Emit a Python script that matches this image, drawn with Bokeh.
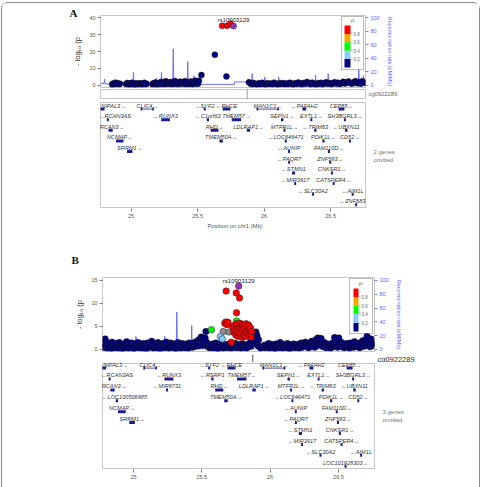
from bokeh.plotting import figure
from bokeh.layouts import column
from bokeh.models import Range1d, LinearAxis, FixedTicker, Label, Title
from bokeh.core.properties import value
from bokeh.embed import file_html
from bokeh.resources import INLINE

# ------------------------------------------------------------------ data
x_ticks = [25.0, 25.5, 26.0, 26.5]
x_tick_labels = ["25", "25.5", "26", "26.5"]
recomb_ticks = [0, 20, 40, 60, 80, 100]
logp_ticks_a = [0, 10, 20, 30, 40]
logp_ticks_b = [0, 5, 10, 15]
r2_labels = ["0.8", "0.6", "0.4", "0.2"]

index_snp = "rs10903129"
index_pos = 25.770
index_logp_a = 35.2
index_logp_b = 13.8
cpg_probe = "cg0922289"
cpg_pos = 25.873
omitted_a = ["2 genes", "omitted"]
omitted_b = ["3 genes", "omitted"]

# recombination rate (cM/Mb)
recomb_pos = [24.770, 24.796, 24.800, 24.804, 24.838, 24.842, 24.846, 25.014, 25.018, 25.022,
              25.185, 25.189, 25.193, 25.225, 25.229, 25.233, 25.262, 25.266, 25.270, 25.313,
              25.317, 25.321, 25.422, 25.426, 25.430, 25.468, 25.472, 25.476, 25.560, 25.777,
              25.779, 25.871, 25.873, 25.906, 25.910, 25.914, 26.001, 26.005, 26.009, 26.106,
              26.110, 26.114, 26.383, 26.387, 26.391, 26.478, 26.482, 26.486, 26.708, 26.712,
              26.716, 26.744, 26.748, 26.752, 26.764]
recomb_rate = [3.0, 1.8, 9.0, 1.6, 1.5, 4.5, 1.4, 1.3, 19.0, 1.3,
               1.2, 10.0, 1.2, 1.3, 19.0, 1.3, 1.2, 8.0, 1.2, 1.3,
               54.0, 1.3, 1.1, 35.0, 1.1, 1.2, 14.0, 1.0, 0.9, 0.9,
               4.6, 4.6, 1.2, 1.2, 17.0, 1.1, 1.0, 12.0, 1.0, 1.0,
               12.0, 1.0, 1.1, 15.0, 1.1, 1.2, 17.0, 1.2, 1.3, 25.0,
               1.3, 1.4, 14.0, 1.4, 1.5]

# panel A association (-log10 p), r2 < 0.2
a_navy_pos = [24.858, 24.866, 24.874, 24.882, 24.891, 24.899, 24.908, 24.916,
              24.962, 24.971, 24.980, 24.989, 24.998, 25.007, 25.016, 25.026, 25.035,
              25.044, 25.053, 25.062, 25.071, 25.080, 25.090, 25.099, 25.108, 25.117,
              25.160, 25.168, 25.176, 25.184, 25.193, 25.201, 25.210, 25.218, 25.227,
              25.235, 25.244, 25.252, 25.261, 25.269, 25.278, 25.286, 25.295, 25.303,
              25.312, 25.320, 25.329, 25.337, 25.346, 25.354, 25.363, 25.371, 25.380,
              25.388, 25.397, 25.405, 25.414, 25.422, 25.431, 25.439, 25.448, 25.456,
              25.465, 25.473, 25.481, 25.489, 25.496, 25.503, 25.510,
              25.529, 25.630, 25.717,
              25.886, 25.897, 25.909, 25.921, 25.934, 25.946, 25.959, 25.972, 25.985,
              25.998, 26.011, 26.024, 26.037, 26.050, 26.063, 26.076, 26.089, 26.102,
              26.115, 26.128, 26.141, 26.154, 26.167, 26.180, 26.193, 26.206, 26.219,
              26.232, 26.245, 26.258, 26.271, 26.284, 26.297, 26.310, 26.323, 26.336,
              26.349, 26.362, 26.375, 26.388, 26.401, 26.414, 26.427, 26.440, 26.453,
              26.466, 26.479, 26.492, 26.505, 26.518, 26.531, 26.544, 26.557, 26.570,
              26.583, 26.596, 26.609, 26.622, 26.635, 26.648, 26.661, 26.674, 26.687,
              26.700, 26.713, 26.726, 26.739, 26.750]
a_navy_logp = [0.3, 0.9, 0.5, 1.4, 0.6, 1.1, 0.4, 0.8,
               0.6, 1.2, 0.3, 0.9, 0.5, 1.4, 0.7, 0.2, 1.0,
               0.6, 0.4, 1.1, 0.8, 0.3, 0.9, 1.3, 0.5, 0.7,
               0.4, 1.0, 0.6, 1.5, 0.3, 0.8, 1.2, 0.5, 1.9,
               0.7, 1.1, 0.4, 2.2, 0.9, 1.4, 0.6, 1.8, 1.0,
               0.5, 1.3, 2.4, 0.8, 1.6, 0.4, 1.1, 2.0, 0.7,
               1.4, 0.9, 2.3, 0.5, 1.2, 1.7, 0.6, 2.1, 1.0,
               0.4, 1.5, 2.6, 0.9, 1.8, 0.7, 2.5,
               5.9, 18.1, 5.1,
               1.6, 0.9, 0.4, 1.2, 0.6, 0.3, 1.0, 0.5, 1.3,
               0.7, 0.3, 1.1, 0.6, 0.9, 0.4, 1.4, 0.7, 0.3,
               1.0, 0.6, 1.2, 0.4, 0.9, 0.5, 1.3, 0.8, 0.3,
               1.1, 0.6, 1.5, 0.9, 0.4, 1.2, 0.7, 1.8, 1.0,
               0.5, 1.4, 0.8, 0.3, 1.1, 0.6, 1.3, 0.4, 0.9,
               1.6, 0.7, 1.2, 0.5, 1.0, 1.7, 0.8, 1.3, 0.6,
               1.1, 1.9, 0.9, 1.5, 2.1, 1.2, 0.7, 1.6, 2.3,
               1.0, 1.8, 0.8, 2.2, 1.3]
# panel A, r2 >= 0.8
a_red_pos = [25.685, 25.722, 25.748]
a_red_logp = [35.3, 35.3, 36.6]

# panel B association (-log10 p), r2 < 0.2
b_navy_pos = [24.781, 24.788, 24.792, 24.799, 24.806, 24.813, 24.821, 24.828, 24.836, 24.843,
              24.851, 24.858, 24.866, 24.873, 24.881, 24.889, 24.896, 24.904, 24.911, 24.919,
              24.927, 24.934, 24.942, 24.950, 24.957, 24.965, 24.972, 24.980, 24.987, 24.995,
              25.002, 25.010, 25.018, 25.025, 25.033, 25.041, 25.048, 25.056, 25.064, 25.071,
              25.079, 25.087, 25.094, 25.102, 25.110, 25.117, 25.125, 25.133, 25.140, 25.148,
              25.156, 25.163, 25.171, 25.179, 25.186, 25.194, 25.202, 25.209, 25.217, 25.225,
              25.232, 25.240, 25.248, 25.255, 25.263, 25.271, 25.278, 25.286, 25.294, 25.301,
              25.309, 25.317, 25.324, 25.332, 25.340, 25.347, 25.355, 25.363, 25.370, 25.378,
              25.386, 25.393, 25.401, 25.409, 25.416, 25.424, 25.432, 25.439, 25.447, 25.455,
              25.462, 25.469, 25.476, 25.483, 25.489, 25.495, 25.501, 25.507, 25.513, 25.519,
              25.524, 25.530, 25.536, 25.542, 25.549, 25.556, 25.563,
              25.571, 25.579, 25.587, 25.595, 25.603, 25.611, 25.619, 25.627, 25.635, 25.643,
              25.651, 25.659, 25.667, 25.675, 25.683, 25.691, 25.699, 25.707, 25.715, 25.723,
              25.731, 25.739, 25.747, 25.755, 25.763, 25.771, 25.779, 25.787, 25.795, 25.803,
              25.811, 25.819, 25.827, 25.835, 25.843, 25.851, 25.858, 25.865, 25.871, 25.877,
              25.883, 25.888, 25.892, 25.896, 25.900, 25.904, 25.909, 25.915, 25.922, 25.931,
              25.944, 25.957,
              25.966, 25.974, 25.982, 25.989, 25.997, 26.005, 26.012, 26.020, 26.028, 26.035,
              26.043, 26.051, 26.058, 26.066, 26.074, 26.081, 26.089, 26.097, 26.104, 26.112,
              26.120, 26.127, 26.135, 26.143, 26.150, 26.158, 26.166, 26.173, 26.181, 26.189,
              26.196, 26.204, 26.212, 26.219, 26.227, 26.235, 26.242, 26.250, 26.258, 26.265,
              26.273, 26.281, 26.288, 26.296, 26.304, 26.311, 26.319, 26.327, 26.334, 26.342,
              26.350, 26.357, 26.365, 26.373, 26.380, 26.388, 26.396, 26.403, 26.411, 26.419,
              26.426, 26.434, 26.442, 26.449, 26.457, 26.465, 26.472, 26.480, 26.488, 26.495,
              26.503, 26.511, 26.518, 26.526, 26.534, 26.541, 26.549, 26.557, 26.564, 26.572,
              26.580, 26.587, 26.595, 26.603, 26.610, 26.618, 26.626, 26.633, 26.641, 26.649,
              26.656, 26.664, 26.672, 26.679, 26.687, 26.695, 26.702, 26.709, 26.716, 26.723,
              26.731, 26.738, 26.745, 26.752]
b_navy_logp = [0.5, 1.2, 2.3, 0.8, 0.3, 1.4, 0.6, 1.0, 0.2, 1.6,
               0.7, 1.1, 0.4, 1.3, 0.8, 0.3, 1.5, 0.6, 1.0, 0.2,
               1.2, 0.7, 0.4, 1.7, 0.9, 0.3, 1.1, 0.6, 1.4, 0.8,
               0.2, 1.2, 0.5, 0.9, 1.5, 0.4, 1.0, 0.7, 0.3, 1.3,
               0.6, 1.0, 0.2, 1.4, 0.8, 0.5, 1.1, 1.8, 0.6, 0.3,
               1.2, 0.8, 0.4, 1.5, 0.9, 0.2, 1.0, 0.6, 1.3, 0.4,
               0.9, 1.6, 0.5, 1.1, 0.3, 1.4, 0.8, 0.5, 1.2, 0.7,
               0.2, 1.0, 1.5, 0.6, 0.9, 0.3, 1.3, 0.7, 1.0, 0.4,
               1.2, 0.8, 0.3, 1.4, 0.6, 1.1, 0.5, 0.9, 1.5, 0.7,
               1.2, 1.9, 0.8, 2.2, 1.3, 2.7, 1.6, 0.9, 2.0, 1.2,
               2.5, 3.9, 1.5, 0.7, 1.1, 0.4, 0.9,
               0.5, 1.2, 0.3, 0.9, 1.4, 0.6, 0.2, 1.0, 0.5, 1.3,
               0.7, 0.3, 1.1, 0.6, 0.9, 0.4, 1.2, 0.7, 0.3, 1.0,
               0.5, 0.8, 1.3, 0.4, 0.9, 0.6, 1.1, 0.3, 0.8, 1.2,
               0.5, 0.9, 0.3, 1.0, 0.6, 1.4, 0.7, 2.0, 1.2, 2.6,
               1.8, 3.3, 2.4, 3.8, 1.5, 3.0, 0.9, 2.1, 0.6, 0.3,
               0.5, 0.9,
               0.4, 1.0, 0.6, 1.3, 0.3, 0.8, 1.1, 0.5, 0.9, 0.2,
               1.2, 0.6, 1.0, 0.4, 1.5, 0.8, 0.3, 1.1, 0.6, 0.9,
               0.4, 1.3, 0.7, 0.2, 1.0, 0.5, 0.8, 1.2, 0.4, 0.9,
               0.6, 1.1, 0.3, 0.8, 1.4, 0.5, 1.0, 0.7, 1.6, 0.9,
               1.3, 0.4, 1.1, 0.6, 1.8, 0.9, 1.4, 0.5, 2.1, 1.2,
               2.5, 1.0, 1.7, 2.4, 1.1, 0.6, 1.5, 0.9, 0.4, 1.2,
               0.7, 1.0, 0.3, 0.9, 1.4, 0.6, 2.6, 0.8, 1.3, 0.5,
               2.5, 1.0, 1.6, 0.7, 1.2, 0.4, 0.9, 1.3, 0.6, 1.0,
               0.3, 1.4, 0.8, 1.1, 0.5, 1.7, 0.9, 1.3, 0.6, 1.0,
               0.4, 1.5, 0.8, 1.9, 0.7, 1.3, 2.0, 2.8, 1.1, 1.7,
               0.6, 2.3, 0.9, 1.4]
# panel B, other LD bins
b_lblue_pos = [25.636, 25.650]
b_lblue_logp = [2.8, 2.3]
b_green_pos = [25.570, 25.754]
b_green_logp = [4.3, 6.2]
b_orange_pos = [25.803]
b_orange_logp = [3.4]
b_gray_pos = [25.657, 25.700]
b_gray_logp = [3.9, 3.8]
b_red_pos = [25.668, 25.676, 25.684, 25.692, 25.716,
             25.726, 25.732, 25.738, 25.742, 25.748, 25.752, 25.757, 25.761, 25.766, 25.770,
             25.775, 25.779, 25.783, 25.788, 25.792, 25.797, 25.801, 25.806, 25.810, 25.815,
             25.820, 25.824, 25.829, 25.833, 25.838, 25.843, 25.847, 25.852, 25.857, 25.862,
             25.866, 25.678, 25.752, 25.776, 25.754]
b_red_logp = [5.7, 6.0, 5.4, 5.9, 1.6,
              4.9, 3.8, 5.2, 4.4, 3.2, 5.6, 4.1, 2.9, 5.0, 3.6,
              4.6, 5.7, 3.3, 4.8, 2.6, 5.4, 4.0, 3.1, 5.2, 4.4,
              2.8, 5.6, 3.7, 4.9, 3.0, 5.3, 4.2, 3.4, 4.7, 2.7,
              3.9, 12.7, 12.3, 11.2, 8.0]

# genes (hg19, Mb)
gene_names = ["NIPAL3", "RCAN3AS", "RCAN3", "LOC100506985", "NCMAP", "SRRM1", "CLIC4", "RUNX3",
              "MIR6731", "SYF2", "C1orf63", "RSRP1", "RHD", "TMEM50A", "RHCE", "TMEM57",
              "LDLRAP1", "MAN1C1", "SEPN1", "MTFR1L", "LOC646471", "AUNIP", "PAQR7", "STMN1",
              "MIR3917", "PAFAH2", "EXTL1", "SLC30A2", "TRIM63", "PDIK1L", "FAM110D", "ZNF593",
              "CNKSR1", "CATSPER4", "LOC101928303", "CEP85", "SH3BGRL3", "UBXN11", "CD52",
              "AIM1L", "ZNF683"]
gene_starts = [24.742, 24.822, 24.830, 24.870, 24.886, 24.969, 25.072, 25.226, 25.245, 25.550,
               25.569, 25.569, 25.598, 25.664, 25.688, 25.757, 25.870, 25.944, 26.127, 26.146,
               26.161, 26.185, 26.186, 26.210, 26.233, 26.288, 26.348, 26.364, 26.377, 26.438,
               26.486, 26.496, 26.503, 26.517, 26.548, 26.560, 26.606, 26.608, 26.644, 26.660,
               26.688]
gene_ends = [24.800, 24.829, 24.862, 24.887, 24.943, 25.010, 25.171, 25.292, 25.246, 25.558,
             25.586, 25.586, 25.657, 25.690, 25.747, 25.827, 25.895, 26.111, 26.145, 26.161,
             26.165, 26.191, 26.191, 26.233, 26.234, 26.317, 26.362, 26.373, 26.394, 26.455,
             26.489, 26.498, 26.518, 26.529, 26.556, 26.604, 26.609, 26.627, 26.647, 26.672,
             26.696]
gene_strands = ["+", "-", "+", "-", "+", "+", "+", "-", "-", "-",
                "-", "-", "+", "+", "-", "+", "+", "+", "+", "+",
                "-", "-", "-", "-", "-", "-", "+", "-", "-", "+",
                "+", "+", "+", "+", "+", "+", "+", "-", "+", "-",
                "-"]
gene_rows_a = [0, 1, 2, None, 3, 4, 0, 1, None, 0,
               1, None, 2, 3, 0, 1, 2, 0, 1, 2,
               3, 4, 5, 6, 7, 0, 1, 8, 2, 3,
               4, 5, 6, 7, None, 0, 1, 2, 3, 8,
               9]
gene_rows_b = [0, 1, 2, 3, 4, 5, 0, 1, 2, 0,
               None, 1, 2, 3, 0, 1, 2, 0, 1, 2,
               3, 4, 5, 6, 7, 0, 1, 8, 2, 3,
               4, 5, 6, 7, 9, 0, 1, 2, 3, 8,
               None]

# ------------------------------------------------------------------ style
W = 477            # width of each stacked figure
OX = 2             # left offset of the stacked figures inside the outer frame
RIGHT = OX + W     # right edge of every figure
FONT = "Liberation Sans"
TXT = "#555555"
BLUE = "#5f5ff2"
RECOMB = "#6f6ff7"
FRAME = "#c6c6c6"
GENE = "#1d1d8c"
LD_COLORS = ["#FF0000", "#FFA500", "#00FF00", "#87CEFA", "#000080"]   # r2: 0.8-1 ... 0-0.2
INDEX_COLOR = "#9632B8"
NA_COLOR = "#8c8c8c"


def make_panel(fig_top, fig_bottom, frame, box, xr, yr, outline):
    """frame: plotting area (px); box: the area that xr / yr span (px)."""
    l, r, t, b = frame
    bl, br, bt, bb = box

    def fx(px):
        return xr[0] + (px - bl) / (br - bl) * (xr[1] - xr[0])

    def fy(py):
        return yr[0] + (bb - py) / (bb - bt) * (yr[1] - yr[0])

    p = figure(width=W, height=fig_bottom - fig_top,
               x_range=Range1d(fx(l), fx(r)), y_range=Range1d(fy(b), fy(t)),
               output_backend="svg", toolbar_location=None,
               x_axis_location=None, y_axis_location=None,
               min_border_left=l - OX, min_border_right=RIGHT - r,
               min_border_top=t - fig_top, min_border_bottom=fig_bottom - b)
    p.grid.visible = False
    p.outline_line_color = FRAME if outline else None
    p.outline_line_width = 1
    p.background_fill_color = "white"
    p.border_fill_color = "white"
    return p, fx, fy


def style_axis(ax, color, label_size, label_color):
    ax.major_label_text_font = FONT
    ax.major_label_text_font_size = "5.5px"
    ax.major_label_text_color = color
    ax.axis_label_text_font = FONT
    ax.axis_label_text_font_size = label_size
    ax.axis_label_text_font_style = "normal"
    ax.axis_label_text_color = label_color
    ax.major_tick_in = 0
    ax.major_tick_out = 3
    ax.minor_tick_in = 0
    ax.minor_tick_out = 0
    ax.major_tick_line_color = color
    ax.major_tick_line_width = 0.8
    ax.axis_line_color = None
    ax.major_label_standoff = 2
    ax.axis_label_standoff = 4


def add_text(p, x, y, text, size, color="#333333", align="left"):
    p.add_layout(Label(x=x, y=y, text=text, text_font=FONT, text_font_size=size,
                       text_color=color, text_align=align, text_baseline="middle"))


def panel_letter(p, letter, offset, standoff):
    p.add_layout(Title(text=letter, align="left", offset=offset, standoff=standoff,
                       text_font="Liberation Serif", text_font_style="bold",
                       text_font_size="11px", text_color="#111111"), "above")


def dots(p, xs, ys, color, size):
    p.scatter(xs, ys, marker="circle", size=size, fill_color=color,
              line_color="#1a1a1a", line_width=0.5)


def assoc_panel(fig_top, fig_bottom, frame, xr, yr, ticks, k, legend_geo):
    p, fx, fy = make_panel(fig_top, fig_bottom, frame, frame, xr, yr, True)
    p.extra_y_ranges = {"recomb": Range1d(yr[0] * k, yr[1] * k)}
    ax = LinearAxis(ticker=FixedTicker(ticks=ticks), axis_label="- log\u2081\u2080 (p")
    style_axis(ax, TXT, "7.5px", "#333333")
    p.add_layout(ax, "left")
    ar = LinearAxis(y_range_name="recomb", ticker=FixedTicker(ticks=recomb_ticks),
                    axis_label="Recombination rate (cM/Mb)")
    style_axis(ar, BLUE, "5.5px", BLUE)
    p.add_layout(ar, "right")
    p.line(recomb_pos, recomb_rate, y_range_name="recomb", line_color=RECOMB, line_width=1)

    # r2 key
    box, sw, lab_x, title = legend_geo
    p.quad(left=fx(box[0]), right=fx(box[1]), top=fy(box[2]), bottom=fy(box[3]),
           fill_color="white", line_color="#a8a8a8", line_width=0.8)
    h = (sw[3] - sw[2]) / len(LD_COLORS)
    for i, c in enumerate(LD_COLORS):
        p.quad(left=fx(sw[0]), right=fx(sw[1]), top=fy(sw[2] + i * h),
               bottom=fy(sw[2] + (i + 1) * h), fill_color=c, line_color=None)
    for i, lab in enumerate(r2_labels):
        yy = sw[2] + (i + 1) * h
        p.segment(x0=fx(sw[1]), y0=fy(yy), x1=fx(sw[1] + 2), y1=fy(yy),
                  line_color="#777777", line_width=0.6)
        add_text(p, fx(lab_x), fy(yy), lab, "4.5px", "#666666")
    add_text(p, fx(title[0]), fy(title[1]), "r\u00b2", "5.5px", "#555555", "center")
    return p, fx, fy


def meth_panel(fig_top, fig_bottom, frame, box, xr, boxed, line_color, label_px, size, color):
    p, fx, fy = make_panel(fig_top, fig_bottom, frame, box, xr, (0, 1), False)
    if boxed:
        p.quad(left=xr[0], right=xr[1], top=1, bottom=0, fill_color=None,
               line_color=FRAME, line_width=1)
    p.segment(x0=[cpg_pos], y0=[fy(frame[3])], x1=[cpg_pos], y1=[fy(frame[2])],
              line_color=line_color, line_width=1)
    add_text(p, fx(label_px[0]), fy(label_px[1]), cpg_probe, size, color)
    return p


def gene_panel(fig_top, fig_bottom, frame, box, xr, row0_px, pitch, rows, omitted, omitted_px,
               axis_label, axis_label_left):
    yr = ((box[3] - row0_px) / pitch, (box[2] - row0_px) / pitch)
    p, fx, fy = make_panel(fig_top, fig_bottom, frame, box, xr, yr, False)
    p.quad(left=xr[0], right=xr[1], top=yr[1], bottom=yr[0], fill_color=None,
           line_color=FRAME, line_width=1)
    ppm = (box[1] - box[0]) / (xr[1] - xr[0])
    bar_off = 3.6 / pitch
    bar_h = 1.5 / pitch
    tx, ty, tt = [], [], []
    bl, br, bt, bb = [], [], [], []
    sx0, sx1, sy = [], [], []
    for name, s, e, strand, row in zip(gene_names, gene_starts, gene_ends, gene_strands, rows):
        if row is None:
            continue
        text = name + "\u2192" if strand == "+" else "\u2190" + name
        mid = (s + e) / 2
        half = len(text) * 3.0 / 2 / ppm
        pad = 2.5 / ppm
        tx.append(min(max(mid, xr[0] + half + pad), xr[1] - half - pad))
        ty.append(row)
        tt.append(text)
        yb = row + bar_off
        s, e = max(s, xr[0]), min(e, xr[1])
        if e - s > 0.08:
            sx0.append(s)
            sx1.append(e)
            sy.append(yb)
            for a0, a1 in ((s, s + 0.012), (e - 0.012, e)):
                bl.append(a0); br.append(a1); bt.append(yb - bar_h); bb.append(yb + bar_h)
        else:
            w = max(e - s, 2.0 / ppm)
            m = (s + e) / 2
            bl.append(m - w / 2); br.append(m + w / 2)
            bt.append(yb - bar_h); bb.append(yb + bar_h)
    p.segment(x0=sx0, y0=sy, x1=sx1, y1=sy, line_color=GENE, line_width=0.8)
    p.quad(left=bl, right=br, top=bt, bottom=bb, fill_color=GENE, line_color=None)
    p.text(x=tx, y=ty, text=tt, text_font=value(FONT), text_font_style="italic",
           text_font_size="5.6px", text_color="#333333", text_align="center",
           text_baseline="middle")
    p.text(x=[fx(omitted_px[0])] * len(omitted),
           y=[fy(omitted_px[1] + i * 8) for i in range(len(omitted))],
           text=omitted, text_font=value(FONT), text_font_size="6px", text_color="#777777",
           text_align="left", text_baseline="middle")

    ax = LinearAxis(ticker=FixedTicker(ticks=x_ticks),
                    major_label_overrides=dict(zip(x_ticks, x_tick_labels)))
    style_axis(ax, TXT, "5.8px", "#555555")
    p.add_layout(ax, "below")
    if axis_label:
        p.add_layout(Title(text=axis_label, align="left", offset=axis_label_left - frame[0],
                           standoff=0, text_font=FONT, text_font_style="normal",
                           text_font_size="5.8px", text_color="#555555"), "below")
    return p


# ------------------------------------------------------------------ panel A
XR_A = (24.770, 26.7625)
pa, fxa, fya = assoc_panel(3, 88, (100, 365, 15, 87), XR_A, (-1.49, 41.49), logp_ticks_a, 2.5,
                           ((341, 363, 16, 69), (344, 350, 25, 67), 353, (352, 20)))
panel_letter(pa, "A", -31, -6)
dots(pa, a_navy_pos, a_navy_logp, LD_COLORS[4], 6)
dots(pa, a_red_pos, a_red_logp, LD_COLORS[0], 6)
dots(pa, [index_pos], [index_logp_a], INDEX_COLOR, 6)
add_text(pa, index_pos, index_logp_a + 6 / 1.675, index_snp, "6px", "#222222", "center")

pma = meth_panel(88, 100, (99, RIGHT, 88, 99), (100, 365, 89, 98), XR_A, True, "#a0a0a0",
                 (368, 93.5), "5.8px", "#666666")
pga = gene_panel(100, 235, (99, RIGHT, 101, 208), (100, 365, 102, 207), XR_A, 105, 10.63,
                 gene_rows_a, omitted_a, (373, 151), "Position on chr1 (Mb)", 207)

# ------------------------------------------------------------------ panel B
XR_B = (24.773, 26.764)
pb, fxb, fyb = assoc_panel(235, 352, (102, 374, 277, 351), XR_B, (-0.435, 15.65), logp_ticks_b,
                           100 / 15,
                           ((349, 372, 278, 333), (353, 358, 288, 331), 361, (360, 283)))
panel_letter(pb, "B", -31, 24)
dots(pb, b_navy_pos, b_navy_logp, LD_COLORS[4], 6.5)
dots(pb, b_gray_pos, b_gray_logp, NA_COLOR, 6.5)
dots(pb, b_lblue_pos, b_lblue_logp, LD_COLORS[3], 6.5)
dots(pb, b_green_pos, b_green_logp, LD_COLORS[2], 6.5)
dots(pb, b_orange_pos, b_orange_logp, LD_COLORS[1], 6.5)
dots(pb, b_red_pos, b_red_logp, LD_COLORS[0], 6.5)
dots(pb, [index_pos], [index_logp_b], INDEX_COLOR, 6.5)
add_text(pb, index_pos, index_logp_b + 5 / 4.6, index_snp, "6px", "#222222", "center")

pmb = meth_panel(352, 362, (102, RIGHT, 352, 362), (102, 374, 352, 362), XR_B, False, "#555555",
                 (377, 356.5), "7.5px", "#2a2a2a")
pgb = gene_panel(362, 487, (101, RIGHT, 362, 469), (102, 374, 363, 468), XR_B, 364, 10.9,
                 gene_rows_b, omitted_b, (382, 411), None, 0)

# each figure sits in its own box so that the stack keeps every plot area as laid out
stack = [column(f, spacing=0) for f in (pa, pma, pga, pb, pmb, pgb)]
layout = column(*stack, spacing=0,
                styles={"border": "1px solid #8a8a8a", "border-bottom": "none",
                        "border-radius": "7px 7px 0 0", "margin-top": "2px",
                        "margin-left": "1px"})

open("out.html", "w").write(file_html(layout, INLINE))
